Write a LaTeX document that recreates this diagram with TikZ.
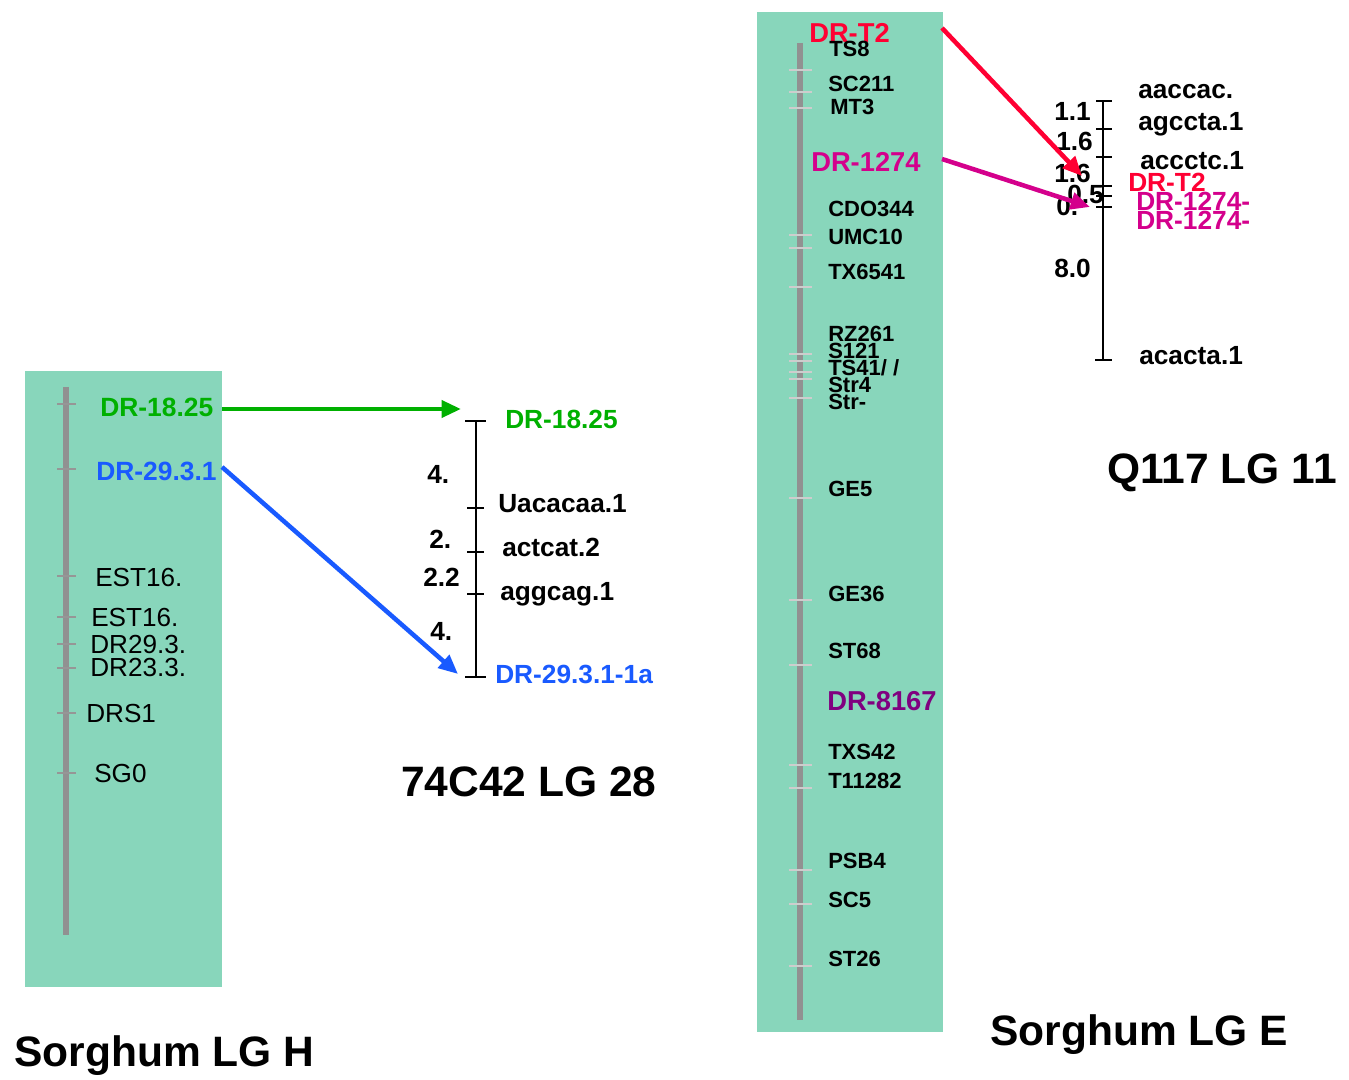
\documentclass[tikz,border=0pt]{standalone}
\usepackage{fontspec}
\setmainfont{Liberation Sans}
\usetikzlibrary{arrows.meta}
\definecolor{boxgreen}{RGB}{136,214,187}
\definecolor{bargray}{RGB}{145,145,145}
\definecolor{etickgray}{RGB}{205,205,205}
\definecolor{htickgray}{RGB}{150,150,150}
\definecolor{mgreen}{RGB}{0,176,0}
\definecolor{mblue}{RGB}{25,90,255}
\definecolor{mred}{RGB}{255,0,51}
\definecolor{mmag}{RGB}{212,0,140}
\definecolor{mpurple}{RGB}{128,0,128}
\tikzset{
  lab/.style={anchor=west, inner sep=0pt, text depth=0pt},
  elab/.style={lab, font=\fontsize{16.5pt}{18pt}\selectfont\bfseries, text height=11.8pt},
  eclab/.style={lab, font=\fontsize{20.5pt}{22pt}\selectfont\bfseries, text height=14.7pt},
  hclab/.style={lab, font=\fontsize{19.8pt}{21pt}\selectfont\bfseries, text height=14.2pt},
  hlab/.style={lab, font=\fontsize{19.6pt}{21pt}\selectfont, text height=14.0pt},
  mlab/.style={lab, font=\fontsize{19.7pt}{21pt}\selectfont\bfseries, text height=14.1pt},
  ttl/.style={lab, font=\fontsize{31.9pt}{34pt}\selectfont\bfseries, text height=22.8pt},
  chrbox/.style={fill=boxgreen, draw=none},
  chrbar/.style={draw=bargray, line width=4.5pt},
  etick/.style={draw=etickgray, line width=1.3pt},
  htick/.style={draw=htickgray, line width=1.5pt},
  axis/.style={draw=black, line width=1.6pt},
  mapArrow/.style={line width=3.4pt, -{Triangle[length=14.5pt, width=12.5pt]}},
}
\begin{document}
\begin{tikzpicture}[x=0.75pt, y=-0.75pt]
\useasboundingbox (0,0) rectangle (1349,1080);

% ---------------- Sorghum LG H ----------------
\path[chrbox] (25,371) rectangle (222,987);
\draw[chrbar] (65.5,387) -- (65.5,935);
\foreach \y in {404,469,576,617,644,668,713,773} \draw[htick] (57,\y) -- (76,\y);
\node[hclab, text=mgreen] (h1825) at (100,407) {DR-18.25};
\node[hclab, text=mblue] (h2931) at (96,471) {DR-29.3.1};
\node[hlab] (hest1) at (95,577) {EST16.};
\node[hlab] (hest2) at (91,617) {EST16.};
\node[hlab] (hdr293) at (90,644) {DR29.3.};
\node[hlab] (hdr233) at (90,667) {DR23.3.};
\node[hlab] (hdrs1) at (86,713) {DRS1};
\node[hlab] (hsg0) at (94,773) {SG0};
\node[ttl] (tH) at (14,1051) {Sorghum LG H};

% ---------------- 74C42 LG 28 ----------------
\draw[axis] (476,421) -- (476,677);
\draw[axis] (465,421) -- (486,421);
\draw[axis] (467,508) -- (484,508);
\draw[axis] (467,552) -- (484,552);
\draw[axis] (467,594) -- (484,594);
\draw[axis] (465,677) -- (486,677);
\node[mlab, text=mgreen] (c1825) at (505,419) {DR-18.25};
\node[mlab] (cuac) at (498,503) {Uacacaa.1};
\node[mlab] (cact) at (502,547) {actcat.2};
\node[mlab] (cagg) at (500,591) {aggcag.1};
\node[mlab, text=mblue] (c2931) at (495,674) {DR-29.3.1-1a};
\node[mlab] (cn1) at (427,474) {4.};
\node[mlab] (cn2) at (429,539) {2.};
\node[mlab] (cn3) at (423,577) {2.2};
\node[mlab] (cn4) at (430,631) {4.};
\node[ttl] (t28) at (401,781) {74C42 LG 28};

% ---------------- Sorghum LG E ----------------
\path[chrbox] (757,12) rectangle (943,1032);
\draw[chrbar] (800,43) -- (800,1020);
\foreach \y in {70,92,108,235,248,287,354,361,372,379,398,498,600,665,765,788,870,904,966}
  \draw[etick] (789,\y) -- (812,\y);
\node[eclab, text=mred] (eT2) at (809,33) {DR-T2};
\node[elab] (ets8) at (829,49) {TS8};
\node[elab] (esc211) at (828,84) {SC211};
\node[elab] (emt3) at (830,107) {MT3};
\node[eclab, text=mmag] (e1274) at (811,162) {DR-1274};
\node[elab] (ecdo) at (828,209) {CDO344};
\node[elab] (eumc) at (828,237) {UMC10};
\node[elab] (etx) at (828,272) {TX6541};
\node[elab] (erz) at (828,334) {RZ261};
\node[elab] (es121) at (828,351) {S121};
\node[elab] (ets41) at (828,368) {TS41/ /};
\node[elab] (estr4) at (828,385) {Str4};
\node[elab] (estr) at (828,402) {Str-};
\node[elab] (ege5) at (828,489) {GE5};
\node[elab] (ege36) at (828,594) {GE36};
\node[elab] (est68) at (828,651) {ST68};
\node[eclab, text=mpurple] (e8167) at (827,701) {DR-8167};
\node[elab] (etxs) at (828,752) {TXS42};
\node[elab] (et11) at (828,781) {T11282};
\node[elab] (epsb) at (828,861) {PSB4};
\node[elab] (esc5) at (828,900) {SC5};
\node[elab] (est26) at (828,959) {ST26};
\node[ttl] (tE) at (990,1030) {Sorghum LG E};

% ---------------- Q117 LG 11 ----------------
\draw[axis] (1103,101) -- (1103,360);
\foreach \y in {101,129,157,186,196,207} \draw[axis] (1096,\y) -- (1112,\y);
\draw[axis] (1095,360) -- (1112,360);
\node[mlab] (qaac) at (1138,89) {aaccac.};
\node[mlab] (qagc) at (1138,121) {agccta.1};
\node[mlab] (qacc) at (1140,160) {accctc.1};
\node[mlab, text=mred] (qT2) at (1128,182) {DR-T2};
\node[mlab, text=mmag] (q1274a) at (1136,201) {DR-1274-};
\node[mlab, text=mmag] (q1274b) at (1136,220) {DR-1274-};
\node[mlab] (qaca) at (1139,355) {acacta.1};
\node[mlab] (qn1) at (1054,111) {1.1};
\node[mlab] (qn2) at (1056,141) {1.6};
\node[mlab] (qn3) at (1054,173) {1.6};
\node[mlab] (qn4) at (1067,194) {0.5};
\node[mlab] (qn5) at (1056,206) {0.};
\node[mlab] (qn6) at (1054,268) {8.0};
\node[ttl] (t11) at (1107,468) {Q117 LG 11};

% ---------------- connectors ----------------
\coordinate (gS) at (222,409);
\coordinate (gT) at (461,409);
\coordinate (bS) at (222,467);
\coordinate (bT) at (458,674);
\coordinate (rS) at (942,28);
\coordinate (rT) at (1082,176);
\coordinate (mS) at (942,159);
\coordinate (mT) at (1090,207);
\draw[mapArrow, mgreen] (gS) -- (gT);
\draw[mapArrow, mblue] (bS) -- (bT);
\draw[mapArrow, mred] (rS) -- (rT);
\draw[mapArrow, mmag] (mS) -- (mT);
\end{tikzpicture}
\end{document}
